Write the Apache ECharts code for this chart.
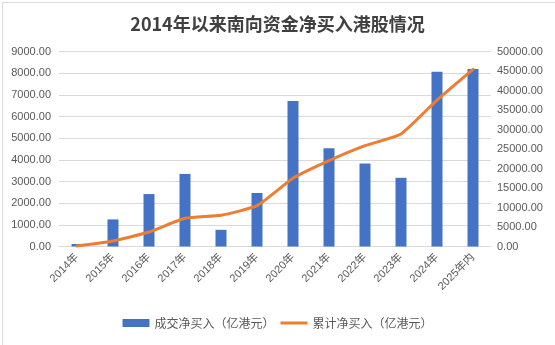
<!DOCTYPE html>
<html>
<head>
<meta charset="utf-8">
<script src="https://cdn.jsdelivr.net/npm/echarts@6/dist/echarts.min.js"></script>
<style>
html,body{margin:0;padding:0;background:#fff;}
#c{width:555px;height:345px;}
</style>
</head>
<body>
<div id="c"></div>
<script>
const title = '2014年以来南向资金净买入港股情况';
const categories = ['2014年','2015年','2016年','2017年','2018年','2019年','2020年','2021年','2022年','2023年','2024年','2025年内'];
const netBuy = [118, 1250, 2420, 3350, 770, 2470, 6720, 4540, 3830, 3170, 8060, 8190];
const cumulative = [118, 1410, 3720, 7230, 8000, 10460, 17490, 22000, 25850, 28850, 37560, 45440];
const seriesNames = ['成交净买入（亿港元）', '累计净买入（亿港元）'];

const chart = echarts.init(document.getElementById('c'), null, {renderer: 'canvas'});
const labelFont = {color: '#595959', fontSize: 11, fontFamily: 'Liberation Sans, Arial, "Noto Sans CJK SC", sans-serif'};
chart.setOption({
  animation: false,
  backgroundColor: '#fff',
  graphic: [{
    type: 'rect', left: 0, top: 0, silent: true,
    shape: {x: 0.5, y: 0.5, width: 554, height: 344},
    style: {fill: 'none', stroke: '#d9d9d9', lineWidth: 1}
  }],
  title: {
    text: title, left: 'center', top: 10,
    textStyle: {fontSize: 18, fontWeight: 'bold', color: '#404040', fontFamily: '"Noto Sans CJK SC", sans-serif'}
  },
  legend: {
    bottom: 11, left: 'center', itemGap: 6, itemWidth: 27, itemHeight: 8,
    textStyle: {color: '#595959', fontSize: 12, fontFamily: '"Noto Sans CJK SC", sans-serif'},
    data: [
      {name: seriesNames[0], icon: 'rect'},
      {name: seriesNames[1], icon: 'path://M0,0H100V11H0Z'}
    ]
  },
  grid: {left: 59, right: 64, top: 51.5, bottom: 98.5, containLabel: false},
  xAxis: {
    type: 'category', data: categories,
    axisLine: {lineStyle: {color: '#d9d9d9'}},
    axisTick: {show: false},
    axisLabel: Object.assign({rotate: 45, margin: 9, interval: 0}, labelFont)
  },
  yAxis: [{
    type: 'value', min: 0, max: 9000, interval: 1000,
    axisLine: {show: false}, axisTick: {show: false},
    splitLine: {lineStyle: {color: '#d9d9d9'}},
    axisLabel: Object.assign({margin: 8, formatter: v => v.toFixed(2)}, labelFont)
  }, {
    type: 'value', min: 0, max: 50000, interval: 5000,
    axisLine: {show: false}, axisTick: {show: false},
    splitLine: {show: false},
    axisLabel: Object.assign({margin: 6, formatter: v => v.toFixed(2)}, labelFont)
  }],
  series: [{
    name: seriesNames[0], type: 'bar', data: netBuy, barWidth: 11,
    itemStyle: {color: '#4472C4'}
  }, {
    name: seriesNames[1], type: 'line', yAxisIndex: 1, data: cumulative,
    symbol: 'none', smooth: 0.15,
    lineStyle: {color: '#ED7D31', width: 3, cap: 'round'},
    itemStyle: {color: '#ED7D31'}
  }]
});
</script>
</body>
</html>
